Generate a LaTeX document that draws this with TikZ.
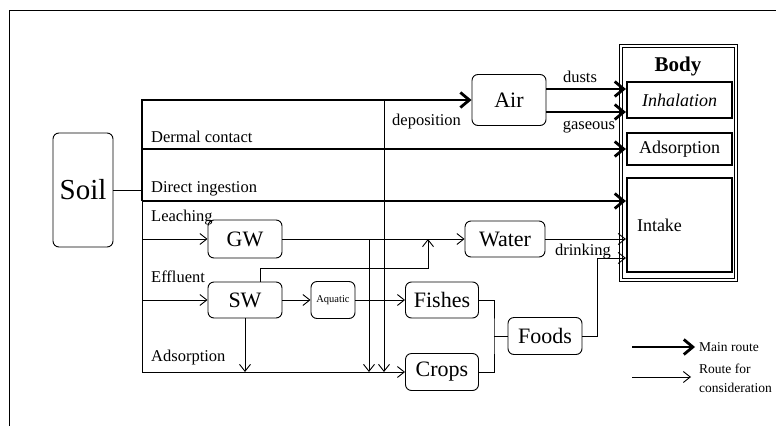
\documentclass[tikz,border=0pt]{standalone}
\usepackage{fontspec}
\setmainfont{Liberation Serif}
\usetikzlibrary{arrows.meta, positioning}

\tikzset{
    box/.style={draw, rounded corners=6pt, line width=0.9pt, inner sep=0pt, font=\fontsize{22}{24}\selectfont},
    organ/.style={draw, line width=2.2pt, minimum width=105pt, inner sep=0pt, font=\fontsize{18}{20}\selectfont},
    main/.style={line width=2.8pt, -{Straight Barb[length=9pt, width=15pt]}},
    minor/.style={line width=0.9pt, ->},
    thin/.style={line width=0.9pt},
    lbl/.style={inner sep=0pt, font=\fontsize{16.5}{18}\selectfont},
    legtext/.style={anchor=west, inner sep=0pt, align=left, font=\fontsize{13.5}{19}\selectfont},
}

\begin{document}
\begin{tikzpicture}[>={Straight Barb[length=7pt, width=11pt]}, x=1pt, y=-1pt]
    \useasboundingbox (0,0) rectangle (776,426);
    % 1. Frame
    \draw[thin] (9,426) -- (9,10) -- (776,10);

    % 2. Boxes
    \node[box, minimum width=60pt, minimum height=114pt, font=\fontsize{29}{31}\selectfont] (soil) at (83,190) {Soil};
    \node[box, minimum width=74pt, minimum height=51pt] (air) at (509,100) {Air};
    \node[box, minimum width=74pt, minimum height=38pt] (gw) at (245,239) {GW};
    \node[box, minimum width=74pt, minimum height=36pt] (sw) at (245,300) {SW};
    \node[box, minimum width=44pt, minimum height=37pt, font=\fontsize{10.5}{12}\selectfont] (aquatic) at (333,300) {Aquatic};
    \node[box, minimum width=80pt, minimum height=36pt] (water) at (505,239) {Water};
    \node[box, minimum width=73pt, minimum height=36pt] (fishes) at (442,300) {Fishes};
    \node[box, minimum width=73pt, minimum height=37pt] (crops) at (442,372) {Crops};
    \node[box, minimum width=74pt, minimum height=37pt] (foods) at (545,336) {Foods};

    % 3. Body
    \node[draw, double, double distance=2.4pt, line width=0.8pt, minimum width=115pt, minimum height=234pt] (body) at (678.5,163) {};
    \node[font=\bfseries\fontsize{21}{23}\selectfont, inner sep=0pt] (bodylbl) at (678,66) {Body};
    \node[organ, minimum height=36pt, font=\itshape\fontsize{18}{20}\selectfont] (inhal) at (679.5,100) {Inhalation};
    \node[organ, minimum height=32pt] (adsorp) at (679.5,149) {Adsorption};
    \node[organ, minimum height=94pt, text width=85pt, align=left] (intake) at (679.5,225) {Intake};

    % 4. Main routes
    \coordinate (bustop) at (142,100);
    \coordinate (ingest) at (142,201);
    \coordinate (busbot) at (142,372);
    \draw[main] (ingest) -- (bustop) -- (air.west);
    \draw[main] (bustop |- adsorp.west) -- (adsorp.west);
    \draw[main] (ingest) -- (ingest -| intake.west);
    \draw[main] ([yshift=11pt]air.east) -- ([yshift=11pt]inhal.west);
    \draw[main] ([yshift=-12pt]air.east) -- ([yshift=-12pt]inhal.west);

    % 5. Routes for consideration
    \draw[thin] (soil.east) -- (soil.east -| busbot);
    \draw[thin] (ingest) -- (busbot);
    \draw[minor] (bustop |- gw.west) -- (gw.west);
    \draw[minor] (bustop |- sw.west) -- (sw.west);
    \draw[minor] (busbot) -- (crops.west);
    \draw[minor] (gw.east) -- (water.west);
    \coordinate (gwdrop) at (369,239);
    \draw[minor] (gwdrop) -- (gwdrop |- busbot);
    \coordinate (depo) at (384,100);
    \draw[minor] (depo) -- (depo |- busbot);
    \coordinate (swup) at (428,268);
    \draw[minor] ([xshift=15pt]sw.north) |- (swup) -- (swup |- water.west);
    \draw[minor] (sw.south) -- (sw.south |- busbot);
    \draw[minor] (sw.east) -- (aquatic.west);
    \draw[minor] (aquatic.east) -- (fishes.west);
    \coordinate (join) at (494,336);
    \draw[thin] (fishes.east) -| (join) |- (crops.east);
    \draw[thin] (join) -- (foods.west);
    \coordinate (drinkup) at (597,258);
    \draw[minor] (foods.east) -| (drinkup) -- (drinkup -| intake.west);
    \draw[minor] (water.east) -- (water.east -| intake.west);

    % 6. Labels
    \node[lbl, anchor=west] (dermal) at (151,137) {Dermal contact};
    \node[lbl, anchor=west] (direct) at (151,189) {Direct ingestion};
    \node[lbl, anchor=west] (leaching) at (151,218) {Leaching};
    \node[lbl, anchor=west] (effluent) at (151,277) {Effluent};
    \node[lbl, anchor=west] (adsorplbl) at (151,358) {Adsorption};
    \node[lbl, anchor=west] (deposition) at (392,122) {deposition};
    \node[lbl] (dusts) at (580,77) {dusts};
    \node[lbl] (gaseous) at (589,127) {gaseous};
    \node[lbl] (drinking) at (583,252) {drinking};

    % 7. Legend
    \coordinate (legmaina) at (632,347);
    \coordinate (legmainb) at (695,347);
    \coordinate (legminora) at (632,377);
    \coordinate (legminorb) at (691,377);
    \draw[main] (legmaina) -- (legmainb);
    \draw[minor] (legminora) -- (legminorb);
    \node[legtext] (legmain) at (699,347) {Main route};
    \node[legtext] (legminor) at (699,378) {Route for\\consideration};
\end{tikzpicture}
\end{document}
